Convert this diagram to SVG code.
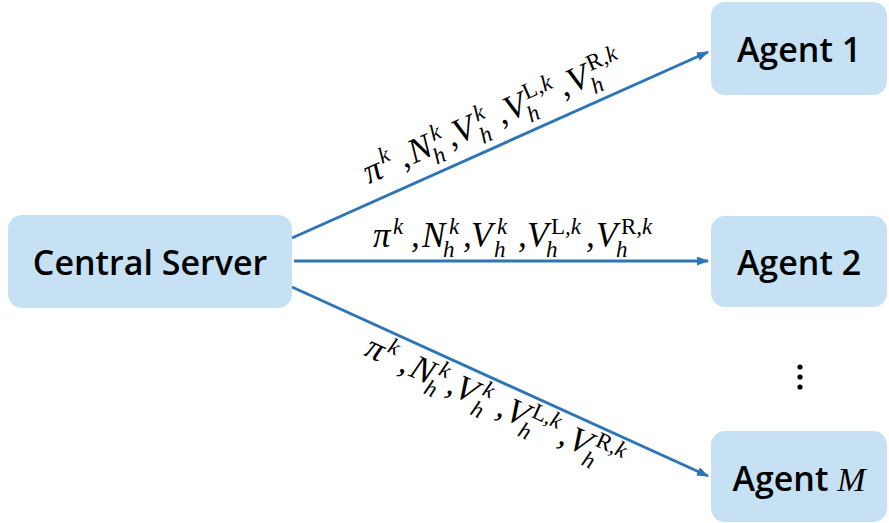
<svg xmlns="http://www.w3.org/2000/svg" xmlns:xlink="http://www.w3.org/1999/xlink" width="889" height="523" viewBox="0 0 889 523">
<style>
.box{fill:#C5E1F3;}
.nt{font-family:"Open Sans","Noto Sans",sans-serif;font-weight:600;font-size:34px;fill:#000;}
.conn{stroke:#2E75B6;stroke-width:3;fill:none;}
.m{font-family:"Liberation Serif","DejaVu Serif",serif;font-style:italic;font-size:35px;fill:#000;}
.s{font-family:"Liberation Serif","DejaVu Serif",serif;font-style:italic;font-size:23px;fill:#000;}
.u{font-style:normal;}
</style>
<defs>
<marker id="ah" markerWidth="12" markerHeight="9" refX="11" refY="4.5" orient="auto" markerUnits="userSpaceOnUse">
<path d="M0,0 L12,4.5 L0,9 Z" fill="#2E75B6"/>
</marker>
<g id="lbl">
<text class="m" x="0" y="0">π</text>
<text class="s" x="20" y="-13">k</text>
<text class="m" x="38" y="0">,</text>
<text class="m" x="49" y="0">N</text>
<text class="s" x="76" y="-13">k</text>
<text class="s" x="70" y="10">h</text>
<text class="m" x="90" y="0">,</text>
<text class="m" x="98" y="0">V</text>
<text class="s" x="124" y="-13">k</text>
<text class="s" x="121" y="10">h</text>
<text class="m" x="145" y="0">,</text>
<text class="m" x="154" y="0">V</text>
<text class="s" x="178" y="-13"><tspan class="u">L</tspan>,k</text>
<text class="s" x="173" y="10">h</text>
<text class="m" x="213" y="0">,</text>
<text class="m" x="223" y="0">V</text>
<text class="s" x="248" y="-13"><tspan class="u">R</tspan>,k</text>
<text class="s" x="243" y="10">h</text>
</g>
</defs>
<g id="connectors">
<line class="conn" x1="292" y1="238" x2="708" y2="52" marker-end="url(#ah)"/>
<line class="conn" x1="294" y1="261" x2="708" y2="261" marker-end="url(#ah)"/>
<line class="conn" x1="292" y1="287" x2="708" y2="476" marker-end="url(#ah)"/>
<use xlink:href="#lbl" transform="translate(369,184) rotate(-24)"/>
<use xlink:href="#lbl" transform="translate(373,247)"/>
<use xlink:href="#lbl" transform="translate(363,355) rotate(24.4)"/>
</g>
<g id="central">
<rect class="box" x="8" y="215" width="284" height="93" rx="14"/>
<text class="nt" x="150" y="275" text-anchor="middle">Central Server</text>
</g>
<g id="agent1">
<rect class="box" x="711" y="2" width="176" height="93" rx="14"/>
<text class="nt" x="799" y="62" text-anchor="middle">Agent 1</text>
</g>
<g id="agent2">
<rect class="box" x="711" y="216" width="176" height="91" rx="14"/>
<text class="nt" x="799" y="275" text-anchor="middle">Agent 2</text>
</g>
<g id="agentM">
<rect class="box" x="711" y="431" width="176" height="91" rx="14"/>
<text class="nt" x="799" y="491" text-anchor="middle">Agent <tspan font-family="Liberation Serif,serif" font-style="italic" font-weight="400">M</tspan></text>
</g>
<g id="dots" fill="#000">
<circle cx="800" cy="367" r="2.6"/>
<circle cx="800" cy="377" r="2.6"/>
<circle cx="800" cy="387" r="2.6"/>
</g>
</svg>
